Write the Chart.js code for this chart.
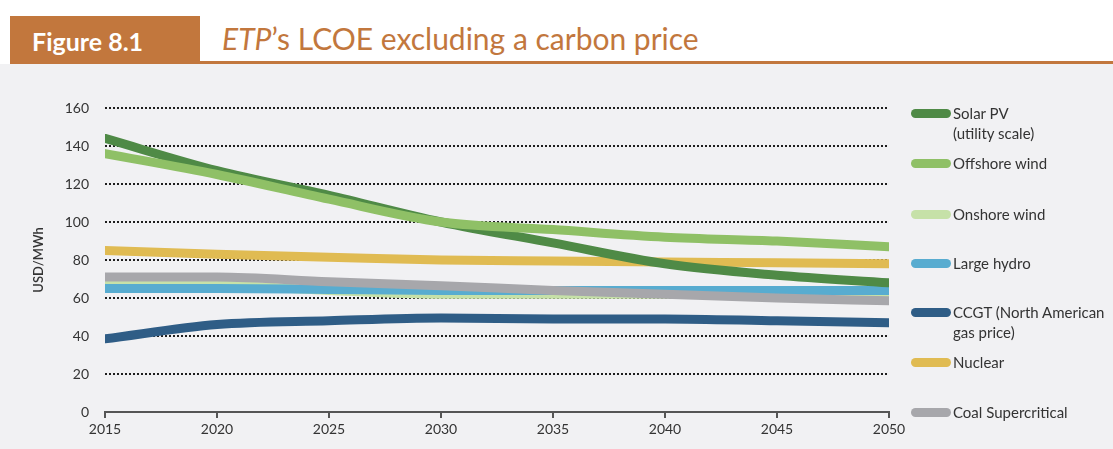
<!DOCTYPE html>
<html lang="en">
<head>
<meta charset="UTF-8">
<title>ETP's LCOE excluding a carbon price</title>
<script src="https://cdn.jsdelivr.net/npm/chart.js"></script>
<style>
  html, body {
    margin: 0;
    padding: 0;
  }
  body {
    width: 1113px;
    height: 449px;
    position: relative;
    overflow: hidden;
    background: #f1f1f3;
    font-family: Lato, "Open Sans", sans-serif;
  }
  .header {
    position: absolute;
    left: 0;
    top: 0;
    width: 1113px;
    height: 64px;
    background: #fff;
  }
  .fig-tag {
    position: absolute;
    left: 10px;
    top: 16px;
    width: 190px;
    height: 48px;
    background: #c2773d;
    color: #fff;
    font-weight: bold;
    font-size: 25px;
    line-height: 50px;
    padding-left: 22px;
    box-sizing: border-box;
  }
  .rule {
    position: absolute;
    left: 200px;
    top: 61px;
    right: 0;
    height: 3px;
    background: #c2773d;
  }
  .title {
    position: absolute;
    left: 222px;
    top: 20px;
    color: #c2773d;
    font-size: 30px;
    line-height: 36px;
  }
  #chart {
    position: absolute;
    left: 0;
    top: 0;
  }
  .legend {
    position: absolute;
    left: 911px;
    top: 0;
    font-size: 15px;
    color: #333;
  }
  .legend .item {
    position: absolute;
    left: 0;
    white-space: nowrap;
  }
  .legend .swatch {
    position: absolute;
    left: 0;
    width: 40px;
    height: 9px;
    border-radius: 4.5px;
  }
  .legend .label {
    position: absolute;
    left: 42px;
    line-height: 20px;
  }
</style>
</head>
<body>
<div class="header"></div>
<div class="fig-tag">Figure 8.1</div>
<div class="rule"></div>
<div class="title"><i>ETP</i>’s LCOE excluding a carbon price</div>
<canvas id="chart" width="1113" height="449"></canvas>
<div class="legend" id="legend"></div>

<script>
// years on the x axis
const years = [2015, 2020, 2025, 2030, 2035, 2040, 2045, 2050]

// levelised cost of electricity, USD/MWh
const solarPV    = [144, 127, 114, 100, 89, 78, 72, 68]
const offshore   = [136, 125, 112, 100, 96, 92, 90, 87]
const onshore    = [68, 67, 64, 62, 62, 62, 62, 62]
const hydro      = [65, 65, 64.5, 64, 64, 64, 64, 64]
const ccgt       = [38.5, 46, 48, 49.5, 49, 49, 48, 47]
const nuclear    = [85, 83, 81.5, 80, 79.5, 79, 78.5, 78]
const coal       = [71, 71, 68.5, 66.5, 64, 62, 60, 58.5]

const yTicks = [0, 20, 40, 60, 80, 100, 120, 140, 160]

// legend entries, top to bottom, with their vertical position
const legendItems = [
  { label: 'Solar PV', sub: '(utility scale)', color: '#4f8a46', y: 113 },
  { label: 'Offshore wind', color: '#8fc066', y: 163 },
  { label: 'Onshore wind', color: '#c6e1a8', y: 214 },
  { label: 'Large hydro', color: '#58acd0', y: 263 },
  { label: 'CCGT (North American', sub: 'gas price)', color: '#2f5d86', y: 312 },
  { label: 'Nuclear', color: '#e0bb52', y: 362 },
  { label: 'Coal Supercritical', color: '#a7a7ab', y: 412 }
]

function series(label, data, color, order) {
  return {
    label,
    data: data.map((v, i) => ({ x: years[i], y: v })),
    borderColor: color,
    backgroundColor: color,
    borderWidth: 9,
    borderCapStyle: 'round',
    borderJoinStyle: 'round',
    pointRadius: 0,
    tension: 0.4,
    cubicInterpolationMode: 'monotone',
    order
  }
}

const datasets = [
  series('Solar PV (utility scale)', solarPV, '#4f8a46', 2),
  series('Offshore wind', offshore, '#8fc066', 1),
  series('Onshore wind', onshore, '#c6e1a8', 6),
  series('Large hydro', hydro, '#58acd0', 4),
  series('CCGT (North American gas price)', ccgt, '#2f5d86', 3),
  series('Nuclear', nuclear, '#e0bb52', 5),
  series('Coal Supercritical', coal, '#a7a7ab', 3)
]

new Chart(document.getElementById('chart'), {
  type: 'line',
  data: { datasets },
  options: {
    responsive: false,
    animation: false,
    layout: {
      padding: { left: 0, right: 224, top: 108, bottom: 0 }
    },
    plugins: {
      legend: { display: false },
      tooltip: { enabled: false }
    },
    scales: {
      x: {
        type: 'linear',
        min: 2015,
        max: 2050,
        afterBuildTicks: axis => { axis.ticks = years.map(v => ({ value: v })) },
        afterFit: axis => { axis.height = 37 },
        border: { display: true, color: '#555', width: 2 },
        grid: {
          drawOnChartArea: false,
          drawTicks: true,
          tickLength: 6,
          color: '#555',
          lineWidth: 2
        },
        ticks: {
          padding: 3,
          color: '#333',
          font: { family: 'Lato', size: 14 },
          callback: v => String(v)
        }
      },
      y: {
        min: 0,
        max: 160,
        afterBuildTicks: axis => { axis.ticks = yTicks.map(v => ({ value: v })) },
        afterFit: axis => { axis.width = 105 },
        // dotted horizontal grid
        border: { display: false, dash: [2, 2] },
        grid: {
          drawTicks: false,
          color: ctx => ctx.tick && ctx.tick.value === 0 ? 'rgba(0,0,0,0)' : '#1e1e1e',
          lineWidth: 2
        },
        ticks: {
          padding: 16,
          color: '#333',
          font: { family: 'Lato', size: 14 }
        },
        title: {
          display: true,
          text: 'USD/MWh',
          color: '#333',
          padding: { top: 31, bottom: 0 },
          font: { family: 'Lato', size: 13, weight: '600' }
        }
      }
    }
  }
})

// hand-placed legend to the right of the plot
const legendEl = document.getElementById('legend')
legendItems.forEach(item => {
  const div = document.createElement('div')
  div.className = 'item'
  div.style.top = (item.y - 10) + 'px'
  div.innerHTML =
    `<div class="swatch" style="background:${item.color};top:6px"></div>` +
    `<div class="label">${item.label}${item.sub ? '<br>' + item.sub : ''}</div>`
  legendEl.appendChild(div)
})
</script>
</body>
</html>
